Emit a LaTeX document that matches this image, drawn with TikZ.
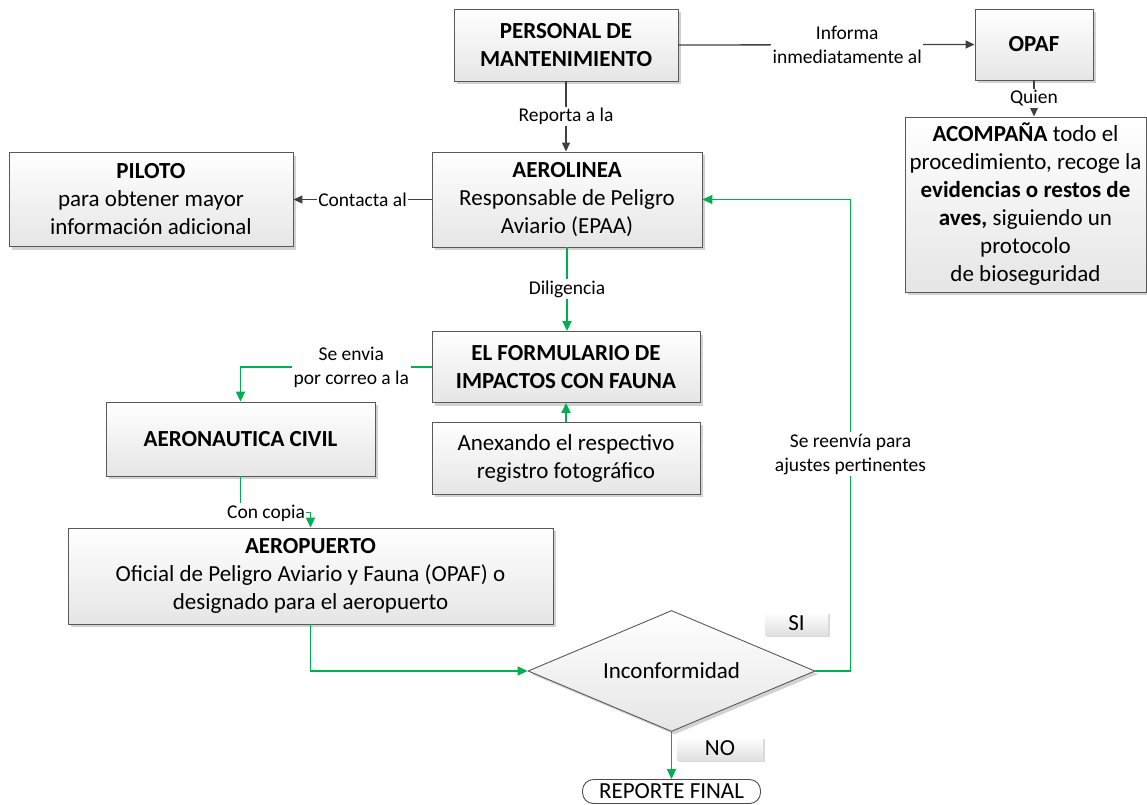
\documentclass[tikz,border=0pt]{standalone}
\usepackage{fontspec}
\setmainfont{Carlito}
\usetikzlibrary{shapes.geometric,arrows.meta,shadows}
\definecolor{grn}{HTML}{00B050}
\definecolor{dkl}{HTML}{404040}
\begin{document}
\begin{tikzpicture}[x=1pt,y=-1pt,
  box/.style={draw=black!65, line width=0.9pt, top color=white, bottom color=black!10,
    drop shadow={shadow xshift=3pt,shadow yshift=-3pt,fill=black!35,opacity=0.5},
    inner sep=0pt, align=center, font=\fontsize{23}{28}\selectfont},
  tagbox/.style={top color=white, bottom color=black!12,
    drop shadow={shadow xshift=2pt,shadow yshift=-2pt,fill=black!30,opacity=0.5},
    inner sep=0pt, font=\fontsize{23}{28}\selectfont},
  lbl/.style={fill=white, inner sep=1.5pt, align=center, font=\fontsize{19.5}{24}\selectfont},
  gline/.style={draw=grn, line width=1.8pt, -{Triangle[length=10pt,width=9pt]}},
  dline/.style={draw=dkl, line width=1.3pt, -{Triangle[length=9pt,width=8pt]}},
]
\useasboundingbox (0,0) rectangle (1147,804);

\node[box, minimum width=224pt, minimum height=72pt] (pers) at (566,45) {\textbf{PERSONAL DE}\\\textbf{MANTENIMIENTO}};
\node[box, minimum width=118pt, minimum height=71pt] (opaf) at (1034,44.5) {\textbf{OPAF}};
\node[box, minimum width=241pt, minimum height=175pt] (acomp) at (1025.5,204.5) {\textbf{ACOMPAÑA} todo el\\procedimiento, recoge la\\\textbf{evidencias o restos de}\\\textbf{aves,} siguiendo un\\protocolo\\de bioseguridad};
\node[box, minimum width=284pt, minimum height=94pt] (piloto) at (151,199.5) {\textbf{PILOTO}\\para obtener mayor\\información adicional};
\node[box, minimum width=270pt, minimum height=95pt] (aerol) at (567,199.5) {\textbf{AEROLINEA}\\Responsable de Peligro\\Aviario (EPAA)};
\node[box, minimum width=268pt, minimum height=71pt] (form) at (566,367) {\textbf{EL FORMULARIO DE}\\\textbf{IMPACTOS CON FAUNA}};
\node[box, minimum width=268pt, minimum height=72pt] (anex) at (566,458) {Anexando el respectivo\\registro fotográfico};
\node[box, minimum width=269pt, minimum height=74pt] (aeron) at (240.5,439) {\textbf{AERONAUTICA CIVIL}};
\node[box, minimum width=485pt, minimum height=96pt] (aerop) at (310.5,576) {\textbf{AEROPUERTO}\\Oficial de Peligro Aviario y Fauna (OPAF) o\\designado para el aeropuerto};
\node[diamond, draw=black!65, line width=0.9pt, top color=white, bottom color=black!10,
  drop shadow={shadow xshift=3pt,shadow yshift=-3pt,fill=black!35,opacity=0.5},
  aspect=2.37, inner sep=0pt, minimum width=287pt, minimum height=121pt,
  font=\fontsize{23}{28}\selectfont] (dia) at (671.5,671) {Inconformidad};
\node[tagbox, minimum width=63pt, minimum height=23pt] (si) at (796.5,623.5) {SI};
\node[tagbox, minimum width=86pt, minimum height=23pt] (no) at (720,748.5) {NO};
\node[draw=black!70, line width=0.9pt, fill=white, rounded corners=11pt, minimum width=178pt,
  minimum height=24pt, inner sep=0pt, font=\fontsize{23}{28}\selectfont] (rep) at (671.5,791.5) {REPORTE FINAL};

\draw[dline] (pers.east) -- node[lbl, pos=0.57]{Informa\\inmediatamente al} (opaf.west);
\draw[dline] (pers.south) -- node[lbl]{Reporta a la} (pers.south |- aerol.north);
\draw[dline] (opaf.south) -- node[lbl]{Quien} (opaf.south |- acomp.north);
\draw[dline] (aerol.west) -- node[lbl]{Contacta al} (piloto.east);
\draw[gline] (aerol.south) -- node[lbl]{Diligencia} (aerol.south |- form.north);
\draw[gline] (anex.north) -- (form.south);
\draw[gline] (form.west) -| node[lbl, pos=0.21]{Se envia\\por correo a la} (aeron.north);
\draw[gline] (aeron.south) -- ++(0,36) -| (aerop.north);
\node[lbl] (lcopia) at (266,513) {Con copia};
\draw[gline] (aerop.south) |- (dia.west);
\draw[gline] (dia.east) -- ++(35,0) |- node[lbl, pos=0.23]{Se reenvía para\\ajustes pertinentes} (aerol.east);
\draw[gline] (dia.south) -- (rep.north);
\end{tikzpicture}
\end{document}
